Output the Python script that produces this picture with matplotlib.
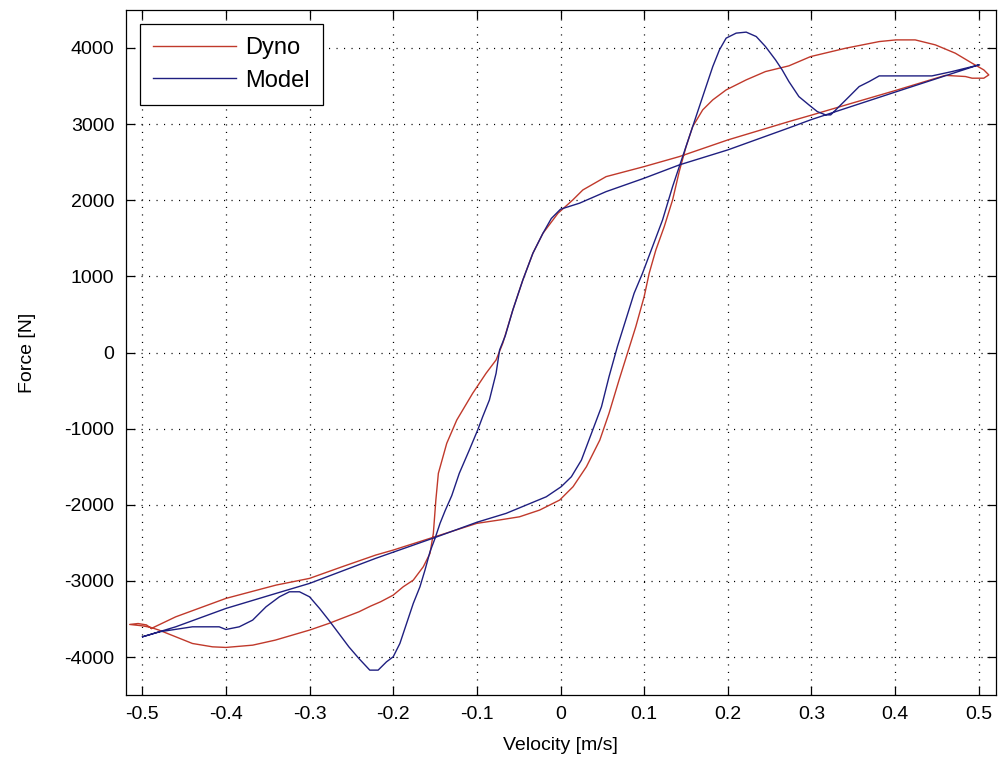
import matplotlib
matplotlib.use("Agg")
import matplotlib.pyplot as plt

plt.rcParams['font.family'] = ['Liberation Sans', 'DejaVu Sans']
plt.rcParams['lines.scale_dashes'] = False

# Dyno measurement: velocity [m/s] and force [N] around one cycle
dyno_v = [-0.489, -0.46, -0.4, -0.34, -0.3, -0.261, -0.221, -0.2, -0.15, -0.1,
          -0.073, -0.049, -0.025, -0.001,
          0.015, 0.031, 0.047, 0.058, 0.070, 0.080, 0.090, 0.100, 0.106, 0.114,
          0.124, 0.134, 0.142, 0.150, 0.158, 0.170, 0.182, 0.198, 0.222, 0.245,
          0.273, 0.299, 0.341, 0.381, 0.401, 0.424, 0.448, 0.472, 0.492,
          0.506, 0.512, 0.506, 0.492, 0.484,
          0.46, 0.4, 0.35, 0.3, 0.273, 0.2, 0.142, 0.1, 0.0545, 0.0267, 0.0147, -0.003,
          -0.021, -0.033, -0.045, -0.057, -0.069, -0.077, -0.089, -0.105, -0.124,
          -0.136, -0.146, -0.149, -0.152, -0.156, -0.164, -0.176, -0.188, -0.2,
          -0.215, -0.227, -0.241, -0.277, -0.3, -0.341, -0.368, -0.4, -0.416,
          -0.44, -0.46, -0.48,
          -0.49, -0.50, -0.515, -0.505, -0.495, -0.489]
dyno_f = [-3624, -3472, -3230, -3055, -2967, -2814, -2661, -2595, -2420, -2244,
          -2200, -2158, -2070, -1938,
          -1763, -1500, -1150, -799, -361, -11, 339, 733, 1040, 1347,
          1653, 2004, 2380, 2700, 2967, 3187, 3318, 3449, 3581, 3690,
          3765, 3887, 3997, 4084, 4106, 4106, 4041, 3931, 3800,
          3712, 3646, 3603, 3603, 3625,
          3640, 3440, 3280, 3118, 3033, 2792, 2573, 2442, 2310, 2135, 2004, 1829,
          1566, 1304, 953, 558, 121, -98, -273, -536, -887,
          -1193, -1587, -1938, -2376, -2639, -2814, -2990, -3077, -3187,
          -3274, -3331, -3406, -3559, -3646, -3778, -3844, -3874, -3866,
          -3822, -3734, -3646,
          -3610, -3590, -3572, -3560, -3578, -3624]

# Model prediction over the same cycle
model_v = [-0.4996, -0.46, -0.4, -0.34, -0.3, -0.221, -0.15, -0.1, -0.065, -0.041,
           -0.017, 0.0008,
           0.013, 0.025, 0.037, 0.049, 0.058, 0.068, 0.078, 0.088, 0.098, 0.110,
           0.122, 0.134, 0.142, 0.150, 0.158, 0.166, 0.174, 0.182, 0.190, 0.198,
           0.210, 0.222, 0.234, 0.245, 0.257, 0.265, 0.273, 0.285, 0.297, 0.307,
           0.317, 0.323, 0.333, 0.345, 0.357, 0.369, 0.381, 0.401, 0.444, 0.468,
           0.492, 0.5,
           0.4, 0.3, 0.273, 0.2, 0.142, 0.1, 0.0545, 0.0227, 0.0, -0.011,
           -0.021, -0.033, -0.045, -0.057, -0.066, -0.0728, -0.077, -0.085, -0.093,
           -0.099, -0.109, -0.121, -0.130, -0.138, -0.144, -0.150, -0.156, -0.162,
           -0.168, -0.176, -0.184, -0.192, -0.2, -0.208, -0.218, -0.228, -0.241,
           -0.253, -0.265, -0.277, -0.288, -0.300, -0.312, -0.324, -0.336, -0.352,
           -0.368, -0.384, -0.4, -0.408, -0.440, -0.479, -0.4996]
model_f = [-3734, -3603, -3362, -3164, -3033, -2704, -2430, -2230, -2113, -2004,
           -1895, -1763,
           -1632, -1413, -1062, -712, -318, 77, 427, 778, 1040, 1390,
           1741, 2179, 2442, 2704, 2967, 3230, 3493, 3755, 3975, 4129,
           4195, 4208, 4150, 4019, 3844, 3712, 3559, 3361, 3252, 3164,
           3121, 3121, 3230, 3361, 3493, 3559, 3633, 3633, 3633, 3690,
           3755, 3778,
           3420, 3060, 2950, 2661, 2464, 2289, 2113, 1961, 1882, 1760,
           1566, 1304, 953, 558, 220, 33, -273, -624, -843,
           -1018, -1281, -1587, -1880, -2080, -2244, -2442, -2617, -2858,
           -3077, -3296, -3559, -3822, -3997, -4063, -4172, -4172, -4019,
           -3866, -3690, -3515, -3362, -3209, -3143, -3143, -3209, -3340,
           -3515, -3603, -3638, -3603, -3603, -3668, -3734]

x_ticks = [-0.5, -0.4, -0.3, -0.2, -0.1, 0.0, 0.1, 0.2, 0.3, 0.4, 0.5]
x_tick_labels = ['-0.5', '-0.4', '-0.3', '-0.2', '-0.1', '0', '0.1', '0.2', '0.3', '0.4', '0.5']
y_ticks = [-4000, -3000, -2000, -1000, 0, 1000, 2000, 3000, 4000]
y_tick_labels = ['-4000', '-3000', '-2000', '-1000', '0', '1000', '2000', '3000', '4000']

W, H = 1002, 771
fig = plt.figure(figsize=(W / 100, H / 100), dpi=100)
left, right, top, bottom = 125.5, 995.5, 9.9, 695.1
ax = fig.add_axes([left / W, 1 - bottom / H, (right - left) / W, (bottom - top) / H])

ax.plot(dyno_v, dyno_f, color='#c0392b', lw=1.0, label='Dyno')
ax.plot(model_v, model_f, color='#1f1f80', lw=1.0, label='Model')

ax.set_xlim(-0.52, 0.52)
ax.set_ylim(-4500, 4500)
ax.set_xticks(x_ticks)
ax.set_xticklabels(x_tick_labels)
ax.set_yticks(y_ticks)
ax.set_yticklabels(y_tick_labels)

ax.grid(True, color='black', linestyle=(0, (0.8, 4.6)), linewidth=0.9)
ax.tick_params(direction='in', length=6.5, width=0.9, top=True, right=True,
               labelsize=14, pad=8, colors='black')
for s in ax.spines.values():
    s.set_linewidth(0.9)

ax.set_xlabel('Velocity [m/s]', fontsize=14, labelpad=10)
ax.set_ylabel('Force [N]', fontsize=14, labelpad=20)

leg = ax.legend(loc='upper left', bbox_to_anchor=(140 / W, 1 - 24 / H),
                bbox_transform=fig.transFigure, borderaxespad=0,
                fontsize=17, handlelength=3.5, handletextpad=0.42,
                labelspacing=0.45, borderpad=0.55, fancybox=False,
                framealpha=1, edgecolor='black')
leg.get_frame().set_linewidth(0.9)

fig.savefig('out.png', dpi=100)
